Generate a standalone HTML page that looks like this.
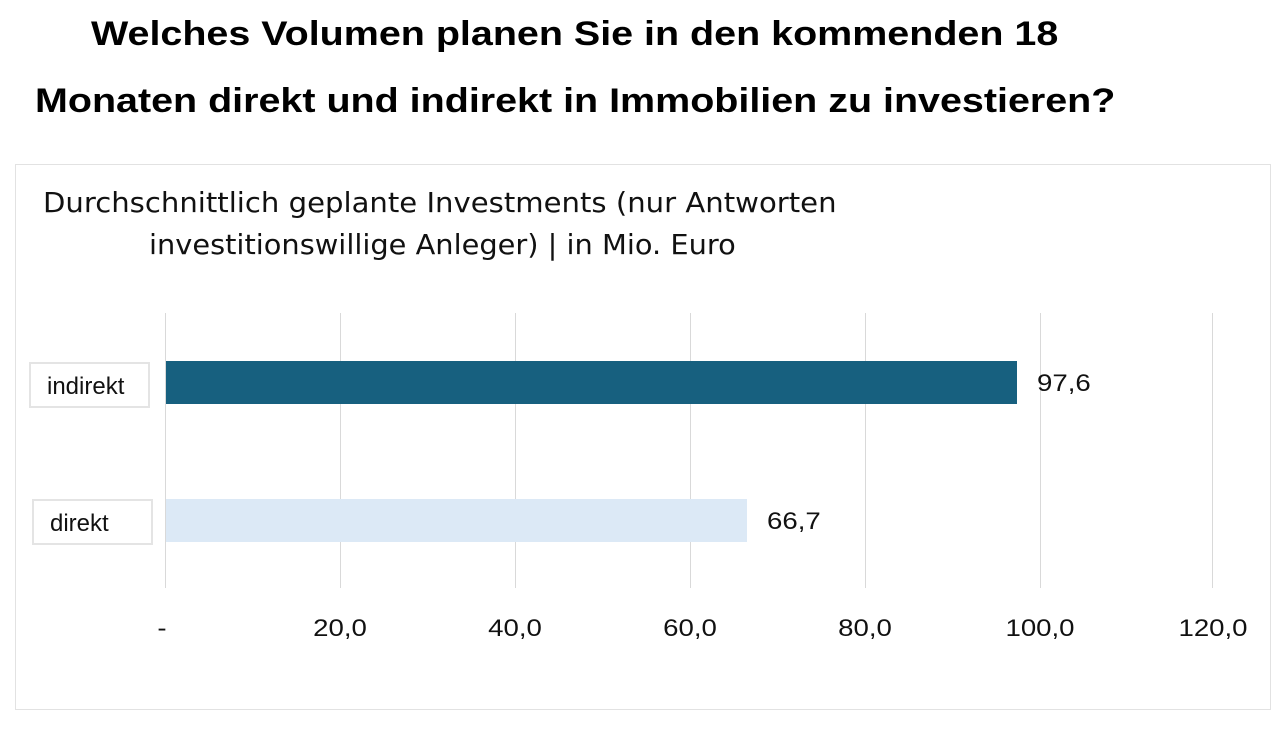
<!DOCTYPE html>
<html><head><meta charset="utf-8"><style>
body{margin:0;width:1280px;height:731px;background:#fff;position:relative;overflow:hidden;font-family:"Liberation Sans",sans-serif;}
.t{position:absolute;font-weight:bold;font-size:34px;color:#000;white-space:nowrap;transform-origin:left top}
.box{position:absolute;left:15px;top:164px;width:1254px;height:544px;border:1px solid #e2e2e2}
.sub{position:absolute;color:#111;white-space:nowrap;font-family:"DejaVu Sans","Liberation Sans",sans-serif;font-size:28px;transform-origin:left top}
.g{position:absolute;top:313px;height:275px;width:1px;background:#d9d9d9}
.lab{position:absolute;border:2px solid #e4e4e4;font-size:24px;color:#111;box-sizing:border-box;padding-left:16px;line-height:46px}
.tick{position:absolute;top:615px;font-size:24px;color:#111;transform:translateX(-50%) scaleX(1.15)}
.v{position:absolute;font-size:24px;color:#111;transform-origin:left top;transform:scaleX(1.15)}
</style></head><body>
<div class="t" style="left:91px;top:15px;transform:scaleX(1.16)">Welches Volumen planen Sie in den kommenden 18</div>
<div class="t" style="left:35px;top:82px;transform:scaleX(1.16)">Monaten direkt und indirekt in Immobilien zu investieren?</div>
<div class="box"></div>
<div class="sub" style="left:43px;top:186px;transform:scaleX(1.04)">Durchschnittlich geplante Investments (nur Antworten</div>
<div class="sub" style="left:149px;top:228px;transform:scaleX(1.03)">investitionswillige Anleger) | in Mio. Euro</div>
<div class="g" style="left:165px"></div><div class="g" style="left:340px"></div><div class="g" style="left:515px"></div><div class="g" style="left:690px"></div><div class="g" style="left:865px"></div><div class="g" style="left:1040px"></div><div class="g" style="left:1212px"></div>
<div style="position:absolute;left:166px;top:361px;width:851px;height:43px;background:#17607f"></div>
<div style="position:absolute;left:166px;top:499px;width:581px;height:43px;background:#dce9f6"></div>
<div class="lab" style="left:29px;top:362px;width:121px;height:46px">indirekt</div>
<div class="lab" style="left:32px;top:499px;width:121px;height:46px">direkt</div>
<div class="v" style="left:1037px;top:370px">97,6</div>
<div class="v" style="left:767px;top:508px">66,7</div>
<div class="tick" style="left:162px">-</div>
<div class="tick" style="left:340px">20,0</div>
<div class="tick" style="left:515px">40,0</div>
<div class="tick" style="left:690px">60,0</div>
<div class="tick" style="left:865px">80,0</div>
<div class="tick" style="left:1040px">100,0</div>
<div class="tick" style="left:1213px">120,0</div>
</body></html>
